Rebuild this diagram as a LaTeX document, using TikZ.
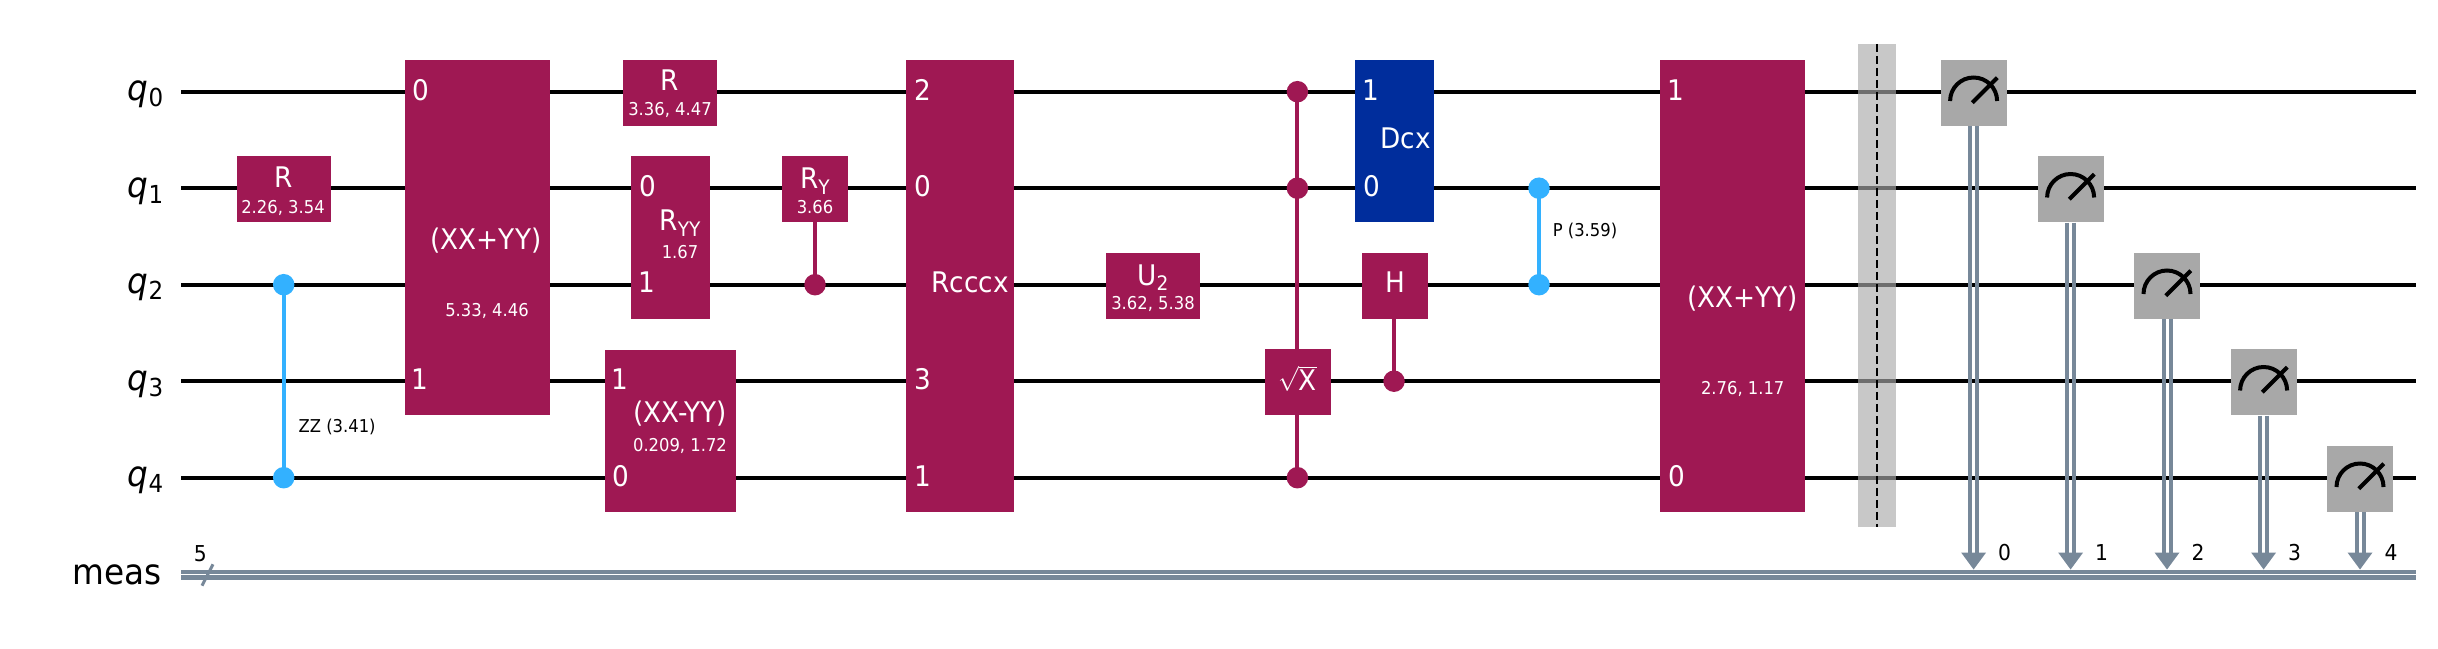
\documentclass[tikz,border=0pt]{standalone}
\usepackage{fontspec}
\setmainfont[FakeStretch=0.926]{DejaVu Sans}
\definecolor{qgate}{HTML}{9F1853}
\definecolor{qblue}{HTML}{002D9C}
\definecolor{qctrl}{HTML}{33B1FF}
\definecolor{qcreg}{HTML}{778899}
\definecolor{qmeas}{HTML}{A8A8A8}
\definecolor{qbarr}{HTML}{AAAAAA}
\newcommand{\fmain}{\fontsize{28.4}{30}\selectfont}
\newcommand{\fsub}{\fontsize{17.7}{19}\selectfont}
\newcommand{\fwire}{\fontsize{35.3}{37}\selectfont}
\newcommand{\gsub}[1]{\raisebox{-.2em}{\fontsize{20}{22}\selectfont #1}}
\newcommand{\wsub}[1]{\raisebox{-.17em}{\fontsize{24.8}{26}\selectfont #1}}
\tikzset{
  qc_wire/.style = {draw=black, line width=4pt},
  qc_creg/.style = {draw=qcreg, line width=4.2pt},
  qc_box/.style = {rectangle, fill=qgate, inner sep=0pt},
  qc_dcx/.style = {qc_box, fill=qblue},
  qc_mbox/.style = {qc_box, fill=qmeas, minimum width=66pt, minimum height=66pt},
  qc_one/.style = {qc_box, minimum height=66pt},
  qc_txt/.style = {inner sep=0pt, white, font=\fmain, text height=20.7pt,
    text depth=0pt},
  qc_par/.style = {inner sep=0pt, white, font=\fsub, text height=12.9pt,
    text depth=0pt},
  qc_lab/.style = {inner sep=0pt, black, font=\fsub, text height=12.9pt,
    text depth=0pt},
  qc_idx/.style = {inner sep=0pt, black, font=\fontsize{21.9}{24}\selectfont,
    text height=16pt, text depth=0pt},
  qc_reg/.style = {inner sep=0pt, black, font=\fwire, anchor=base east},
  dot_g/.style = {circle, fill=qgate, inner sep=0pt, minimum size=21.5pt},
  dot_b/.style = {circle, fill=qctrl, inner sep=0pt, minimum size=21.5pt},
  link_g/.style = {draw=qgate, line width=4pt},
  link_b/.style = {draw=qctrl, line width=4pt},
  barr_box/.style = {rectangle, fill=qbarr, fill opacity=.65, inner sep=0pt,
    minimum width=38pt, minimum height=483pt}
}

\begin{document}
\begin{tikzpicture}[x=1pt,y=-1pt]
\useasboundingbox (0,0) rectangle (2438,648);

% wires
\foreach \i in {0,...,4} {
  \pgfmathsetmacro{\yw}{91.7+96.5*\i}
  \coordinate (wl\i) at (181,\yw);
  \coordinate (wr\i) at (2416,\yw);
  \draw [qc_wire] (wl\i) -- (wr\i);
  \node [qc_reg] (ql\i) at (163.5,\yw+9) {{\itshape q}\wsub{\i}};
}
\coordinate (cl) at (181,574.6);
\coordinate (cr) at (2416,574.6);
\draw [qc_creg] ([yshift=-2.8pt]cl) -- ([yshift=-2.8pt]cr);
\draw [qc_creg] ([yshift=2.8pt]cl) -- ([yshift=2.8pt]cr);
\node [qc_reg] (meas) at (162,584) {meas};
\coordinate (sl0) at (202,585.7);
\coordinate (sl1) at (213,564.3);
\draw [draw=qcreg, line width=3pt] (sl0) -- (sl1);
\node [qc_idx] (cn) at (200.3,553) {5};

% zz
\node [dot_b] (zz0) at (283.7,284.7) {};
\node [dot_b] (zz1) at (283.7,477.7) {};
\draw [link_b] (zz0.center) -- (zz1.center);
\node [qc_lab, anchor=west] (zzt) at (298.5,425.6) {ZZ (3.41)};

% r on q1
\node [qc_one, minimum width=94pt] (ra) at (284,188.9) {};
\node [qc_txt] (rat) at (284,177) {R};
\node [qc_par] (rap) at (283,206.6) {2.26, 3.54};

% first xx+yy
\node [qc_box, minimum width=145pt, minimum height=354.5pt] (xa) at (477.5,237.25) {};
\node [qc_txt] (xa0) at (421,89.7) {0};
\node [qc_txt] (xa1) at (420,379) {1};
\node [qc_txt] (xat) at (486,239) {(XX+YY)};
\node [qc_par] (xap) at (487,310) {5.33, 4.46};

% r on q0
\node [qc_one, minimum width=94pt] (rb) at (670,92.8) {};
\node [qc_txt] (rbt) at (670,80) {R};
\node [qc_par] (rbp) at (670,109.5) {3.36, 4.47};

% ryy
\node [qc_box, minimum width=79pt, minimum height=163pt] (ry) at (670.5,237.4) {};
\node [qc_txt] (ry0) at (648,186) {0};
\node [qc_txt] (ry1) at (647,282.6) {1};
\node [qc_txt] (ryt) at (680,220) {R\gsub{YY}};
\node [qc_par] (ryp) at (680,252.5) {1.67};

% xx-yy
\node [qc_box, minimum width=131pt, minimum height=161.6pt] (xb) at (670.5,430.8) {};
\node [qc_txt] (xb1) at (620,379) {1};
\node [qc_txt] (xb0) at (621,476.5) {0};
\node [qc_txt] (xbt) at (680,412.4) {(XX-YY)};
\node [qc_par] (xbp) at (680,445.5) {0.209, 1.72};

% controlled ry
\node [dot_g] (cy0) at (815,284.7) {};
\node [qc_one, minimum width=66pt] (cy) at (815,188.9) {};
\draw [link_g] (cy) -- (cy0.center);
\node [qc_txt] (cyt) at (815,178) {R\gsub{Y}};
\node [qc_par] (cyp) at (815,206.6) {3.66};

% rcccx
\node [qc_box, minimum width=108pt, minimum height=451.6pt] (rc) at (960,285.8) {};
\node [qc_txt] (rc2) at (922.4,89.7) {2};
\node [qc_txt] (rc0) at (922.4,186) {0};
\node [qc_txt] (rc3) at (922.4,379) {3};
\node [qc_txt] (rc1) at (922.4,476.5) {1};
\node [qc_txt] (rct) at (970,282.6) {Rcccx};

% u2
\node [qc_one, minimum width=94pt] (ua) at (1153,285.8) {};
\node [qc_txt] (uat) at (1153,274.8) {U\gsub{2}};
\node [qc_par] (uap) at (1153,303) {3.62, 5.38};

% controlled sqrt x
\node [dot_g] (sx0) at (1297.4,91.7) {};
\node [dot_g] (sx1) at (1297.4,188.2) {};
\node [dot_g] (sx4) at (1297.4,477.7) {};
\draw [link_g] (sx0.center) -- (sx4.center);
\node [qc_one, minimum width=66pt] (sx) at (1298,382.2) {};
\node [qc_txt] (sxt) at (1297.5,380) {$\sqrt{\mbox{X}}$};

% dcx
\node [qc_dcx, minimum width=79pt, minimum height=162pt] (dc) at (1394.5,141) {};
\node [qc_txt] (dc1) at (1371,89.7) {1};
\node [qc_txt] (dc0) at (1372,186) {0};
\node [qc_txt] (dct) at (1405.6,138.4) {Dcx};

% controlled h
\node [dot_g] (ch0) at (1394,381.2) {};
\node [qc_one, minimum width=66pt] (ch) at (1395,285.8) {};
\draw [link_g] (ch.south -| ch0) -- (ch0.center);
\node [qc_txt] (cht) at (1395,282.6) {H};

% p
\node [dot_b] (pa0) at (1539,188.2) {};
\node [dot_b] (pa1) at (1539,284.7) {};
\draw [link_b] (pa0.center) -- (pa1.center);
\node [qc_lab, anchor=west] (pat) at (1552.6,230) {P (3.59)};

% second xx+yy
\node [qc_box, minimum width=145pt, minimum height=451.6pt] (xc) at (1732.5,285.8) {};
\node [qc_txt] (xc1) at (1676,89.7) {1};
\node [qc_txt] (xc0) at (1677,476.5) {0};
\node [qc_txt] (xct) at (1742.7,296.7) {(XX+YY)};
\node [qc_par] (xcp) at (1742.7,387.6) {2.76, 1.17};

% barrier
\node [barr_box] (ba) at (1877,285.5) {};
\draw [black, line width=2pt, dash pattern=on 8.5pt off 3.5pt] (ba.north) -- (ba.south);

% measures
\foreach \i/\xm in {0/1973.6,1/2070.6,2/2167,3/2263.6,4/2360} {
  \pgfmathsetmacro{\yw}{91.7+96.5*\i}
  \node [qc_mbox] (m\i) at (\xm,\yw+1.1) {};
  \coordinate (ct\i) at (\xm,569.5);
  \draw [draw=qcreg, line width=4pt] ([xshift=-3.5pt]m\i.south) -- ([xshift=-3.5pt,yshift=10pt]ct\i);
  \draw [draw=qcreg, line width=4pt] ([xshift=3.5pt]m\i.south) -- ([xshift=3.5pt,yshift=10pt]ct\i);
  \fill [qcreg] (ct\i) -- ([xshift=-12.5pt,yshift=17pt]ct\i) -- ([xshift=12.5pt,yshift=17pt]ct\i) -- cycle;
  \node [qc_idx] (ci\i) at (\xm+31,552.7) {\i};
  \draw [black, line width=4pt] (\xm-23.5,\yw+9.3) arc[start angle=180, end angle=0, radius=23.5pt];
  \draw [black, line width=4pt] (\xm-1.3,\yw+11) -- (\xm+23.7,\yw-14);
}
\end{tikzpicture}
\end{document}
